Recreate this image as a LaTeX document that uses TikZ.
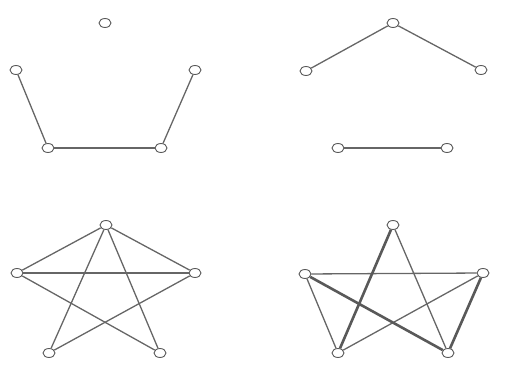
\documentclass[tikz,border=0pt]{standalone}
\usetikzlibrary{shapes.geometric}
\begin{document}
\begin{tikzpicture}[x=1pt,y=-1pt,
  vtx/.style={draw=black!65,fill=white,ellipse,minimum width=12pt,minimum height=9pt,inner sep=0pt,line width=0.9pt},
  edge/.style={draw=black!60,line width=1.3pt},
  thickedge/.style={draw=black!65,line width=2.6pt}]
\useasboundingbox (0,0) rectangle (506,374);
% top-left graph
\node[vtx] (a1) at (105,23) {};
\node[vtx] (a2) at (16,70) {};
\node[vtx] (a3) at (195,70) {};
\node[vtx] (a4) at (48,148) {};
\node[vtx] (a5) at (161,148) {};
\draw[edge] (a2) -- (a4);
\draw[edge] (a4) -- (a5);
\draw[edge] (a5) -- (a3);
% top-right graph
\node[vtx] (b1) at (393,23) {};
\node[vtx] (b2) at (306,71) {};
\node[vtx] (b3) at (481,70) {};
\node[vtx] (b4) at (338,148) {};
\node[vtx] (b5) at (447,148) {};
\draw[edge] (b1) -- (b2);
\draw[edge] (b1) -- (b3);
\draw[edge] (b4) -- (b5);
% bottom-left graph
\node[vtx] (c1) at (106,225) {};
\node[vtx] (c2) at (17,273) {};
\node[vtx] (c3) at (195,273) {};
\node[vtx] (c4) at (49,353) {};
\node[vtx] (c5) at (160,353) {};
\draw[edge] (c1) -- (c2);
\draw[edge] (c1) -- (c3);
\draw[edge] (c2) -- (c3);
\draw[edge] (c1) -- (c4);
\draw[edge] (c1) -- (c5);
\draw[edge] (c2) -- (c5);
\draw[edge] (c3) -- (c4);
% bottom-right graph
\node[vtx] (d1) at (393,225) {};
\node[vtx] (d2) at (305,274) {};
\node[vtx] (d3) at (483,273) {};
\node[vtx] (d4) at (338,353) {};
\node[vtx] (d5) at (448,353) {};
\draw[edge] (d2) -- (d3);
\draw[edge] (d1) -- (d5);
\draw[edge] (d2) -- (d4);
\draw[edge] (d3) -- (d4);
\draw[thickedge] (d1) -- (d4);
\draw[thickedge] (d2) -- (d5);
\draw[thickedge] (d3) -- (d5);
\end{tikzpicture}
\end{document}
